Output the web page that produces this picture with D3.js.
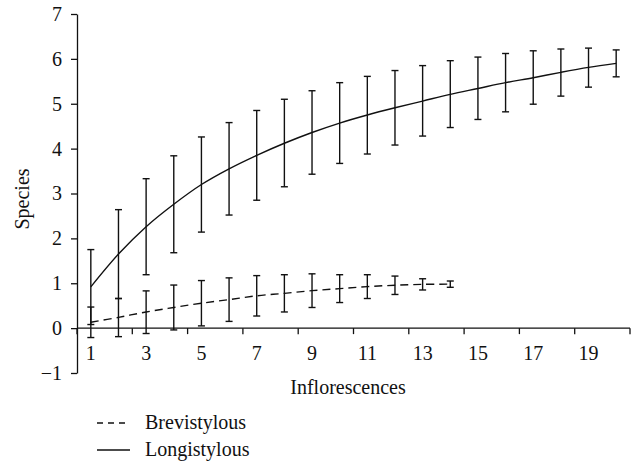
<!DOCTYPE html>
<html lang="en">
	<head>
		<meta charset="utf-8">
		<title>Species accumulation</title>
		<script type="text/javascript" src="https://cdn.jsdelivr.net/npm/d3@7/dist/d3.min.js"></script>
		<style type="text/css">
			body { margin: 0; background: #fff; }
			text { font-family: "Liberation Serif", "DejaVu Serif", serif; fill: #111; }
		</style>
	</head>
	<body>
		<script type="text/javascript">
			var w = 636;
			var h = 463;

			var inflorescences = d3.range(1, 21);
			var xLabels = [1, 3, 5, 7, 9, 11, 13, 15, 17, 19];
			var yTicks = [-1, 0, 1, 2, 3, 4, 5, 6, 7];

			// Longistylous: 20 points
			var longMean = [0.92, 1.65, 2.26, 2.76, 3.20, 3.55, 3.85, 4.12, 4.36, 4.57,
							4.75, 4.91, 5.06, 5.21, 5.34, 5.47, 5.58, 5.70, 5.81, 5.90];
			var longHigh = [1.75, 2.64, 3.33, 3.84, 4.26, 4.58, 4.85, 5.10, 5.29, 5.47,
							5.61, 5.74, 5.85, 5.96, 6.04, 6.12, 6.18, 6.22, 6.24, 6.20];
			var longLow  = [0.08, 0.66, 1.19, 1.68, 2.14, 2.52, 2.85, 3.15, 3.43, 3.67,
							3.88, 4.08, 4.28, 4.47, 4.65, 4.82, 4.99, 5.17, 5.37, 5.60];

			// Brevistylous: 14 points
			var breviMean = [0.13, 0.24, 0.36, 0.46, 0.555, 0.635, 0.72, 0.775, 0.835, 0.88,
							 0.925, 0.955, 0.975, 0.98];
			var breviHigh = [0.47, 0.66, 0.83, 0.96, 1.06, 1.12, 1.17, 1.19, 1.21, 1.19,
							 1.19, 1.16, 1.10, 1.05];
			var breviLow  = [-0.21, -0.19, -0.12, -0.04, 0.05, 0.15, 0.27, 0.36, 0.46, 0.57,
							 0.66, 0.75, 0.85, 0.91];

			var xScale = d3.scaleBand()
							.domain(inflorescences)
							.range([77, 630])
							.padding(0);
			var yScale = d3.scaleLinear()
							.domain([-1, 7])
							.range([373, 14]);

			var cx = function(d) { return xScale(d) + xScale.bandwidth() / 2; };

			var svg = d3.select("body")
							.append("svg")
							.attr("width", w)
							.attr("height", h);

			//y axis
			var yAxis = svg.append("g")
				.attr("transform", "translate(77,0)")
				.call(d3.axisLeft(yScale).tickValues(yTicks).tickSize(6).tickSizeOuter(0).tickPadding(9));
			yAxis.selectAll("text").attr("font-size", "20px").attr("font-family", "Liberation Serif").attr("fill", "#111");
			yAxis.selectAll("line, path").attr("stroke", "#111").attr("stroke-width", 1.3);

			//x axis at zero
			var xAxis = svg.append("g")
				.attr("transform", "translate(0," + yScale(0) + ")")
				.call(d3.axisBottom(xScale).tickValues(xLabels).tickSize(0).tickSizeOuter(0).tickPadding(18));
			xAxis.select(".domain").remove();
			xAxis.selectAll("text").attr("font-size", "20px").attr("font-family", "Liberation Serif").attr("fill", "#111");
			xAxis.append("line")
				.attr("x1", xScale.range()[0])
				.attr("x2", xScale.range()[1])
				.attr("stroke", "#111")
				.attr("stroke-width", 1.3);
			//ticks between category pairs
			var tickPos = xLabels.map(function(d) { return xScale(d); }).concat([xScale.range()[1]]);
			xAxis.selectAll("line.tk")
				.data(tickPos)
				.enter()
				.append("line")
				.attr("class", "tk")
				.attr("x1", function(d) { return d; })
				.attr("x2", function(d) { return d; })
				.attr("y1", 0)
				.attr("y2", 6)
				.attr("stroke", "#111")
				.attr("stroke-width", 1.3);

			//axis titles
			svg.append("text")
				.attr("transform", "translate(29,199) rotate(-90)")
				.attr("text-anchor", "middle")
				.attr("font-size", "20px")
				.text("Species");
			svg.append("text")
				.attr("x", 348)
				.attr("y", 394)
				.attr("text-anchor", "middle")
				.attr("font-size", "20px")
				.text("Inflorescences");

			//series
			function drawSeries(mean, low, high, dash) {
				var cats = inflorescences.slice(0, mean.length);
				var g = svg.append("g");
				var line = d3.line()
					.x(function(d, i) { return cx(cats[i]); })
					.y(function(d) { return yScale(d); })
					.curve(d3.curveCatmullRom);
				g.append("path")
					.datum(mean)
					.attr("d", line)
					.attr("fill", "none")
					.attr("stroke", "#111")
					.attr("stroke-width", 1.4)
					.attr("stroke-dasharray", dash);
				var bars = g.selectAll("g.bar")
					.data(cats)
					.enter()
					.append("g")
					.attr("class", "bar");
				bars.append("line")
					.attr("x1", cx).attr("x2", cx)
					.attr("y1", function(d, i) { return yScale(low[i]); })
					.attr("y2", function(d, i) { return yScale(high[i]); });
				bars.append("line")
					.attr("x1", function(d) { return cx(d) - 3.5; })
					.attr("x2", function(d) { return cx(d) + 3.5; })
					.attr("y1", function(d, i) { return yScale(low[i]); })
					.attr("y2", function(d, i) { return yScale(low[i]); });
				bars.append("line")
					.attr("x1", function(d) { return cx(d) - 3.5; })
					.attr("x2", function(d) { return cx(d) + 3.5; })
					.attr("y1", function(d, i) { return yScale(high[i]); })
					.attr("y2", function(d, i) { return yScale(high[i]); });
				bars.selectAll("line")
					.attr("stroke", "#111")
					.attr("stroke-width", 1.4);
			}
			drawSeries(longMean, longLow, longHigh, null);
			drawSeries(breviMean, breviLow, breviHigh, "8,5");

			//legend
			var legend = svg.append("g");
			var items = [{name: "Brevistylous", dash: "6,5", y: 423},
						 {name: "Longistylous", dash: null, y: 450}];
			legend.selectAll("line")
				.data(items)
				.enter()
				.append("line")
				.attr("x1", 97).attr("x2", 130)
				.attr("y1", function(d) { return d.y; })
				.attr("y2", function(d) { return d.y; })
				.attr("stroke", "#111")
				.attr("stroke-width", 1.4)
				.attr("stroke-dasharray", function(d) { return d.dash; });
			legend.selectAll("text")
				.data(items)
				.enter()
				.append("text")
				.attr("x", 145)
				.attr("y", function(d) { return d.y + 6; })
				.attr("font-size", "20px")
				.text(function(d) { return d.name; });
		</script>
	</body>
</html>
